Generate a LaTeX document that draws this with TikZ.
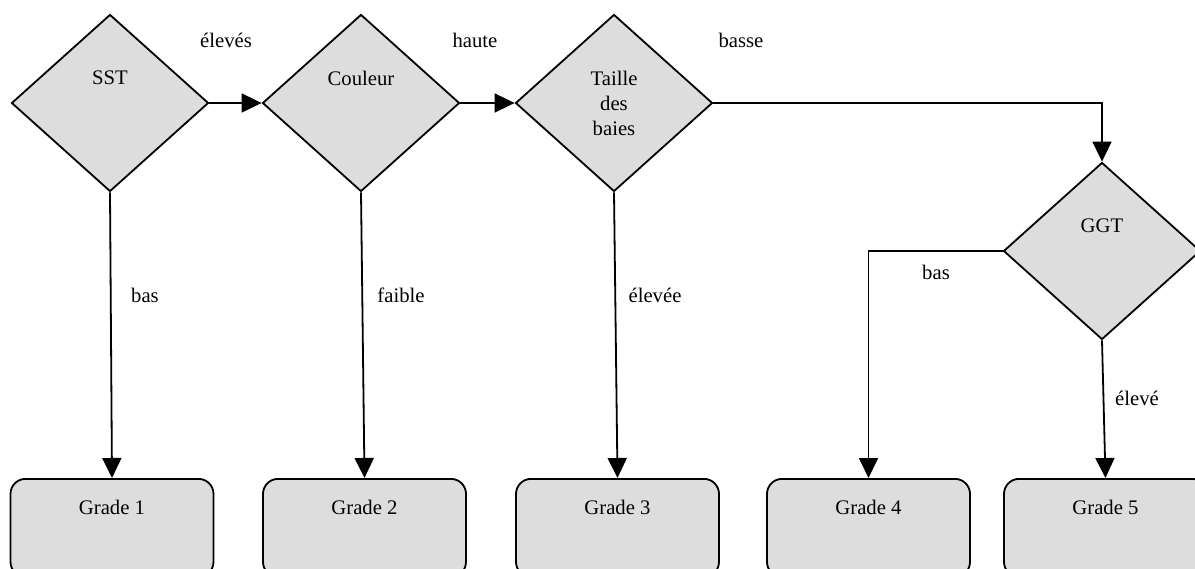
\documentclass[tikz,border=0pt]{standalone}
\usepackage{fontspec}
\setmainfont{Liberation Serif}
\usetikzlibrary{shapes.geometric,arrows.meta}
\definecolor{boxgray}{HTML}{DDDDDD}
\tikzset{
  decision/.style={diamond,draw=black,fill=boxgray,line width=1.8pt,inner sep=0pt,
    minimum width=197pt,minimum height=177pt},
  gradebox/.style={rectangle,draw=black,fill=boxgray,line width=1.8pt,rounded corners=15pt,
    minimum width=203pt,minimum height=98pt,inner sep=0pt,anchor=north},
  txt/.style={font=\fontsize{20.7}{25}\selectfont,inner sep=0pt,align=center},
  flow/.style={draw=black,line width=1.8pt,-{Triangle[length=20pt,width=19pt]}}
}
\begin{document}
\begin{tikzpicture}[x=1pt,y=-1pt]
\useasboundingbox (0,0) rectangle (1195,569);
% decisions
\node[decision] (sst) at (110,103) {};
\node[decision] (coul) at (361,103) {};
\node[decision] (tail) at (614,103) {};
\node[decision] (ggt) at (1102,251) {};
\node[txt] (sstt) at (110,78) {SST};
\node[txt] (coult) at (361,78) {Couleur};
\node[txt] (tailt) at (614,103) {Taille\\des\\baies};
\node[txt] (ggtt) at (1102,226) {GGT};
% grade boxes
\node[gradebox] (g1) at (112,478) {};
\node[gradebox] (g2) at (364.5,478) {};
\node[gradebox] (g3) at (617.5,478) {};
\node[gradebox] (g4) at (868.5,478) {};
\node[gradebox] (g5) at (1105.5,478) {};
\node[txt] (g1t) at (112,507) {Grade 1};
\node[txt] (g2t) at (364.5,507) {Grade 2};
\node[txt] (g3t) at (617.5,507) {Grade 3};
\node[txt] (g4t) at (868.5,507) {Grade 4};
\node[txt] (g5t) at (1105.5,507) {Grade 5};
% connectors
\draw[flow] (sst.east) -- (coul.west);
\draw[flow] (coul.east) -- (tail.west);
\draw[flow] (tail.east) -| (ggt.north);
\draw[flow] (sst.south) -- (g1.north);
\draw[flow] (coul.south) -- (g2.north);
\draw[flow] (tail.south) -- (g3.north);
\draw[flow] (ggt.west) -| (g4.north);
\draw[flow] (ggt.south) -- (g5.north);
% labels
\node[txt] (l1) at (226,40) {élevés};
\node[txt] (l2) at (475,40) {haute};
\node[txt] (l3) at (741,40) {basse};
\node[txt] (l4) at (145,295) {bas};
\node[txt] (l5) at (401,295) {faible};
\node[txt] (l6) at (655,295) {élevée};
\node[txt] (l7) at (936,272) {bas};
\node[txt] (l8) at (1137,398) {élevé};
\end{tikzpicture}
\end{document}
